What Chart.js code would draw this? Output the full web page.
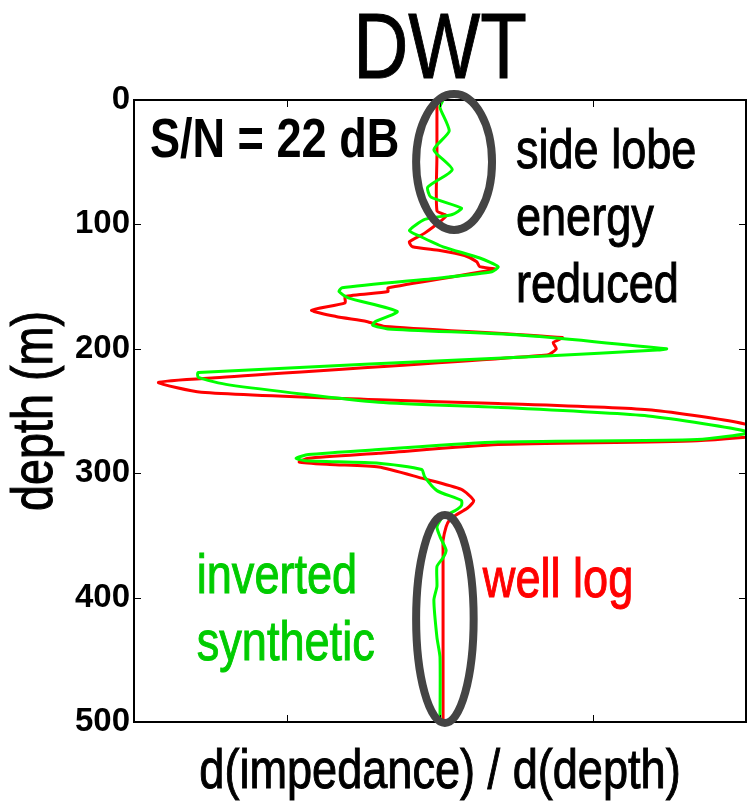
<!DOCTYPE html>
<html>
<head>
<meta charset="utf-8">
<script src="https://cdn.jsdelivr.net/npm/chart.js@4.4.1/dist/chart.umd.min.js"></script>
<style>
html,body{margin:0;padding:0;background:#fff;}
#wrap{width:747px;height:801px;}
</style>
</head>
<body>
<div id="wrap"><canvas id="chart"></canvas></div>
<script>
// well log (red): depth in m, d(impedance)/d(depth) in relative units
let logDepth = [0,45,89,93,107,114,118,121,125,130,134,136,151,154,158,163,169,174,178,182,191,195,200,205,223,227,235,241,244,249,259,268,274,277,284,288,291,293,295,304,313,322,328,334,338,343,354,362,434,500];
let logValue = [-0.01,-0.01,-0.01,0.02,-0.05,-0.10,-0.09,0.00,0.08,0.12,0.13,0.18,-0.17,-0.17,-0.31,-0.31,-0.42,-0.34,-0.24,-0.18,0.40,0.37,0.38,0.35,-0.72,-0.92,-0.78,-0.20,0.19,0.68,0.97,1.09,0.84,0.19,-0.20,-0.43,-0.46,-0.36,-0.20,-0.06,0.07,0.11,0.09,0.05,0.03,0.02,0.01,0.01,0.01,0.01];

// inverted synthetic (green)
let invDepth = [0,6,25,40,56,70,78,87,92,96,105,109,118,127,134,138,143,151,154,159,170,178,181,184,189,200,201,206,219,223,229,243,247,254,267,273,275,281,285,288,290,292,297,303,314,322,326,330,335,343,351,362,368,375,391,402,432,448,500];
let invValue = [0.01,0.00,0.03,-0.02,0.04,-0.04,-0.03,0.07,0.04,-0.05,-0.10,-0.07,0.01,0.13,0.19,0.17,0.00,-0.32,-0.33,-0.30,-0.14,-0.21,-0.22,-0.17,0.26,0.74,0.71,0.33,-0.79,-0.79,-0.69,-0.20,0.19,0.68,1.01,0.84,0.19,-0.20,-0.43,-0.47,-0.44,-0.20,-0.06,-0.05,-0.01,0.07,0.07,0.05,0.01,-0.01,0.00,0.02,0.01,-0.01,-0.01,-0.02,-0.01,0.00,0.00];

let depthTicks = [0,100,200,300,400,500];
let slopeTicks = [-0.5,0,0.5];

let titleText = 'DWT';
let xTitle = 'd(impedance) / d(depth)';
let yTitle = 'depth (m)';

// no narrow face installed: Liberation Sans squeezed to Helvetica Narrow width
const FONT = '"Liberation Sans", Arial, sans-serif';
const SQUEEZE = 0.82;

// ellipses: centre (value, depth) and radii in the same units
let rings = [
  {x:0.046, y:49.8, rx:0.124, ry:54.7},
  {x:0.016, y:417.2, rx:0.094, ry:83.6}
];

let notes = [
  {lines:['S/N = 22 dB'], x:-0.948, y:45.8, color:'#000', bold:true},
  {lines:['side lobe','energy','reduced'], x:0.248, y:54.7, color:'#000'},
  {lines:['inverted','synthetic'], x:-0.795, y:396, color:'#00cc00'},
  {lines:['well log'], x:0.14, y:399.5, color:'#ff0000'}
];

function narrowText(ctx, text, x, y, size, opts){
  opts = opts || {};
  ctx.save();
  ctx.translate(x, y);
  if (opts.rotate) ctx.rotate(opts.rotate);
  ctx.scale(SQUEEZE, 1);
  ctx.font = (opts.bold ? 'bold ' : '') + size + 'px ' + FONT;
  ctx.fillStyle = opts.color || '#000';
  ctx.strokeStyle = opts.color || '#000';
  ctx.lineWidth = 1;
  ctx.textAlign = opts.align || 'left';
  ctx.textBaseline = 'alphabetic';
  ctx.fillText(text, 0, 0);
  if (!opts.bold) ctx.strokeText(text, 0, 0);
  ctx.restore();
}

const decor = {
  id:'decor',
  afterDatasetsDraw(chart){
    const {ctx, chartArea:a, scales:{x,y}} = chart;
    ctx.save();
    ctx.strokeStyle='#000';
    ctx.lineWidth=2;
    ctx.strokeRect(a.left,a.top,a.right-a.left,a.bottom-a.top);
    ctx.lineWidth=1;
    ctx.beginPath();
    depthTicks.forEach(d=>{
      let py=Math.round(y.getPixelForValue(d))+0.5;
      ctx.moveTo(a.left,py); ctx.lineTo(a.left+7,py);
      ctx.moveTo(a.right,py); ctx.lineTo(a.right-7,py);
    });
    slopeTicks.forEach(v=>{
      let px=Math.round(x.getPixelForValue(v))+0.5;
      ctx.moveTo(px,a.top); ctx.lineTo(px,a.top+7);
      ctx.moveTo(px,a.bottom); ctx.lineTo(px,a.bottom-7);
    });
    ctx.stroke();

    ctx.strokeStyle='#444444';
    ctx.lineWidth=8;
    rings.forEach(r=>{
      let cx=x.getPixelForValue(r.x), cy=y.getPixelForValue(r.y);
      let rx=x.getPixelForValue(r.x+r.rx)-cx, ry=y.getPixelForValue(r.y+r.ry)-cy;
      ctx.beginPath();
      ctx.ellipse(cx,cy,Math.abs(rx),Math.abs(ry),0,0,Math.PI*2);
      ctx.stroke();
    });
    ctx.restore();

    notes.forEach(n=>{
      let px=x.getPixelForValue(n.x), py=y.getPixelForValue(n.y);
      n.lines.forEach((t,i)=>narrowText(ctx,t,px,py+i*67,55,{color:n.color,bold:n.bold}));
    });

    // title and axis titles, centred on the plot box
    let mid=(a.left+a.right)/2;
    narrowText(ctx,titleText,mid,a.top-22,93,{align:'center'});
    narrowText(ctx,xTitle,mid,a.bottom+66,55,{align:'center'});
    narrowText(ctx,yTitle,52,(a.top+a.bottom)/2,57,{align:'center',rotate:-Math.PI/2});
  }
};

let ctx = document.getElementById('chart').getContext('2d');
let chart = new Chart(ctx,{
  type:'scatter',
  data:{
    datasets:[{
      label:'inverted synthetic',
      data:invDepth.map((d,i)=>({x:invValue[i],y:d})),
      borderColor:'#00ff00',
      borderWidth:3,
      showLine:true,
      pointRadius:0,
      tension:0.2,
      order:0
    },{
      label:'well log',
      data:logDepth.map((d,i)=>({x:logValue[i],y:d})),
      borderColor:'#ff0000',
      borderWidth:3,
      showLine:true,
      pointRadius:0,
      tension:0.2,
      order:1
    }]
  },
  options:{
    responsive:true,
    maintainAspectRatio:false,
    animation:false,
    layout:{padding:{left:0,right:1,top:100,bottom:0}},
    plugins:{
      legend:{display:false},
      tooltip:{enabled:false},
      title:{display:false}
    },
    scales:{
      x:{
        type:'linear',
        min:-1,max:1,
        afterFit:(s)=>{s.height=79;},
        grid:{display:false},
        border:{display:false},
        ticks:{display:false}
      },
      y:{
        type:'linear',
        reverse:true,
        min:0,max:500,
        afterFit:(s)=>{s.width=134;},
        afterBuildTicks:(s)=>{s.ticks=depthTicks.map(v=>({value:v}));},
        grid:{display:false},
        border:{display:false},
        ticks:{
          color:'#000',
          padding:-4,
          font:{family:FONT,size:33,weight:'bold'}
        }
      }
    }
  },
  plugins:[decor]
});
</script>
</body>
</html>
